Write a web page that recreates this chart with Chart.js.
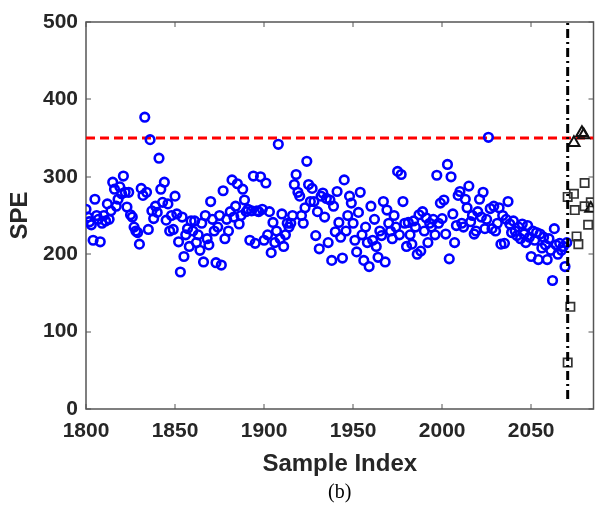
<!DOCTYPE html>
<html>
<head>
<meta charset="utf-8">
<script src="https://cdn.jsdelivr.net/npm/chart.js@4.4.0/dist/chart.umd.min.js"></script>
<style>
  html, body { margin: 0; padding: 0; background: #fff; }
  #wrap { width: 602px; height: 509px; }
</style>
</head>
<body>
<div id="wrap"><canvas id="speChart" width="602" height="509"></canvas></div>
<script>
// sample index of the first SPE value
const startIndex = 1800;

// SPE of the normal samples, one per index from 1800 to 2070
const speValues = [
  258, 248, 242, 238, 218, 271, 250, 245, 216, 240,
  250, 243, 265, 245, 256, 293, 284, 262, 271, 287,
  278, 301, 280, 261, 280, 251, 248, 235, 230, 228,
  213, 285, 276, 377, 280, 232, 348, 256, 246, 262,
  254, 324, 284, 267, 293, 244, 265, 230, 250, 232,
  275, 252, 216, 177, 248, 197, 225, 233, 210, 243,
  230, 243, 215, 225, 205, 240, 190, 250, 220, 212,
  268, 245, 230, 189, 235, 250, 186, 282, 220, 245,
  230, 255, 296, 248, 262, 291, 239, 250, 284, 270,
  255, 258, 218, 256, 301, 214, 256, 255, 300, 258,
  218, 292, 225, 255, 202, 241, 215, 230, 342, 220,
  252, 210, 225, 240, 235, 240, 250, 290, 303, 280,
  275, 250, 240, 260, 320, 290, 268, 285, 268, 224,
  255, 207, 275, 279, 248, 272, 215, 270, 192, 262,
  229, 281, 241, 222, 195, 296, 230, 250, 275, 266,
  240, 218, 203, 254, 280, 225, 192, 235, 215, 184,
  262, 218, 245, 210, 196, 230, 224, 268, 190, 257,
  240, 230, 220, 250, 235, 307, 225, 303, 268, 240,
  210, 241, 225, 213, 243, 235, 200, 251, 204, 255,
  230, 247, 215, 240, 235, 245, 225, 302, 240, 266,
  246, 270, 226, 316, 194, 300, 252, 215, 237, 276,
  281, 240, 235, 271, 260, 288, 242, 250, 226, 230,
  255, 271, 248, 280, 233, 245, 351, 259, 233, 262,
  230, 240, 260, 213, 250, 214, 245, 268, 239, 228,
  243, 230, 224, 235, 220, 239, 226, 215, 237, 222,
  197, 230, 218, 228, 193, 226, 208, 222, 212, 193,
  220, 205, 166, 233, 212, 200, 214, 205, 210, 184,
  215
];

// test samples after the fault (squares and triangles)
const squareX = [2070.5, 2072, 2070.5, 2074, 2074.5, 2075.5, 2076.5, 2080, 2080, 2082, 2083.5];
const squareY = [60, 132, 274, 278, 257, 223, 213, 292, 262, 238, 267];
const triangleX = [2074, 2078.5, 2079.5, 2083.5];
const triangleY = [344, 357, 354, 259];

// control limit and fault start
const threshold = 350;
const faultStart = 2070.5;

// axes
const xMin = 1800, xMax = 2085;
const yMin = 0, yMax = 500;
const xTicks = [1800, 1850, 1900, 1950, 2000, 2050];
const yTicks = [0, 100, 200, 300, 400, 500];

const sansFont = "'Liberation Sans', Arial, Helvetica, sans-serif";
const axisColor = "#262626";

// box around the plot + inward tick marks (matlab style)
const boxPlugin = {
  id: "box",
  beforeDatasetsDraw(chart) {
    const { ctx, chartArea: a, scales } = chart;
    ctx.save();
    ctx.strokeStyle = "#555";
    ctx.lineWidth = 1.5;
    ctx.strokeRect(a.left, a.top, a.right - a.left, a.bottom - a.top);
    ctx.beginPath();
    xTicks.forEach((v) => {
      const px = Math.round(scales.x.getPixelForValue(v));
      ctx.moveTo(px, a.bottom);
      ctx.lineTo(px, a.bottom - 5);
      ctx.moveTo(px, a.top);
      ctx.lineTo(px, a.top + 5);
    });
    yTicks.forEach((v) => {
      const py = Math.round(scales.y.getPixelForValue(v));
      ctx.moveTo(a.left, py);
      ctx.lineTo(a.left + 5, py);
      ctx.moveTo(a.right, py);
      ctx.lineTo(a.right - 5, py);
    });
    ctx.lineWidth = 1;
    ctx.stroke();
    ctx.restore();
  },
};

new Chart(document.getElementById("speChart"), {
  type: "scatter",
  data: {
    datasets: [
      {
        label: "fault start",
        type: "line",
        data: [
          { x: faultStart, y: 13 },
          { x: faultStart, y: yMax },
        ],
        borderColor: "#000",
        borderWidth: 3,
        borderDash: [9, 4, 2, 4],
        pointRadius: 0,
        order: 0,
      },
      {
        label: "faulty (triangle)",
        data: triangleX.map((x, i) => ({ x, y: triangleY[i] })),
        pointStyle: "triangle",
        pointRadius: 6.5,
        borderWidth: 2,
        borderColor: "#111",
        backgroundColor: "transparent",
        order: 1,
      },
      {
        label: "faulty (square)",
        data: squareX.map((x, i) => ({ x, y: squareY[i] })),
        pointStyle: "rect",
        pointRadius: 5.9,
        borderWidth: 1.7,
        borderColor: "#333",
        backgroundColor: "transparent",
        order: 1,
      },
      {
        label: "SPE",
        data: speValues.map((v, i) => ({ x: startIndex + i, y: v })),
        pointStyle: "circle",
        pointRadius: 4.3,
        borderWidth: 2.6,
        borderColor: "#0000ff",
        backgroundColor: "transparent",
        order: 2,
      },
      {
        label: "control limit",
        type: "line",
        data: [
          { x: xMin, y: threshold },
          { x: xMax, y: threshold },
        ],
        borderColor: "#ff0000",
        borderWidth: 3,
        borderDash: [9, 5],
        pointRadius: 0,
        order: 3,
      },
    ],
  },
  options: {
    responsive: false,
    animation: false,
    events: [],
    layout: { padding: { left: 0, right: 3, top: 22, bottom: 0 } },
    plugins: {
      legend: { display: false },
      tooltip: { enabled: false },
      title: {
        display: true,
        position: "bottom",
        fullSize: false,
        text: "(b)",
        color: "#000",
        font: { family: "'Liberation Serif', 'Times New Roman', serif", size: 20, weight: "normal", lineHeight: 1 },
        padding: { top: 0, bottom: 6 },
      },
    },
    scales: {
      x: {
        type: "linear",
        min: xMin,
        max: xMax,
        afterBuildTicks: (s) => { s.ticks = xTicks.map((v) => ({ value: v })); },
        afterFit: (s) => { s.height = 74; },
        grid: { display: false, drawTicks: false },
        border: { display: false },
        ticks: {
          padding: 10,
          color: axisColor,
          font: { family: sansFont, size: 21, weight: "bold" },
          callback: (v) => String(v),
        },
        title: {
          display: true,
          text: "Sample Index",
          color: axisColor,
          font: { family: sansFont, size: 24, weight: "bold" },
          padding: { top: 0, bottom: 4 },
        },
      },
      y: {
        min: yMin,
        max: yMax,
        afterBuildTicks: (s) => { s.ticks = yTicks.map((v) => ({ value: v })); },
        afterFit: (s) => { s.width = 86; },
        grid: { display: false, drawTicks: false },
        border: { display: false },
        ticks: {
          padding: 8,
          color: axisColor,
          font: { family: sansFont, size: 21, weight: "bold" },
          callback: (v) => String(v),
        },
        title: {
          display: true,
          text: "SPE",
          color: axisColor,
          font: { family: sansFont, size: 24, weight: "bold" },
          padding: { top: 6, bottom: 0 },
        },
      },
    },
  },
  plugins: [boxPlugin],
});
</script>
</body>
</html>
